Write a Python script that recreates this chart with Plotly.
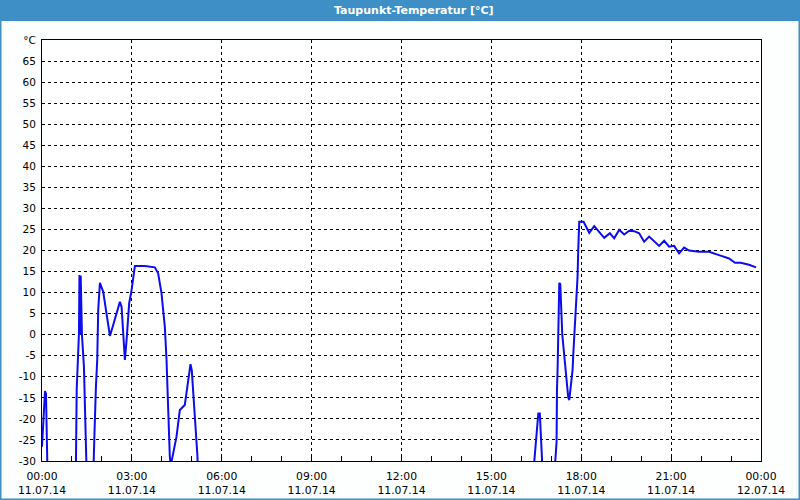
import pandas as pd
import plotly.graph_objects as go

# ---- data (minutes after 11.07.14 00:00, dew point in °C; values below -30 are off-scale) ----
minutes = [0, 2, 4, 6, 8, 11, 13,
           40,
           68, 69.5, 74, 75, 76.5, 77.5, 80, 84, 87.5, 90.5, 92,
           100,
           102.6, 104.6, 108, 110.6, 112.6, 116, 122.6, 129.4, 136, 142.6, 150.6, 156, 159.4,
           162.6, 166, 169.4, 174.6, 179.4, 182.6, 186, 206, 226, 232.6, 239.4, 242.6, 246,
           249.4, 252.6, 256, 258,
           262.6, 269.4, 276, 286, 289.4, 294.6, 297.4, 300, 302.6, 307.4, 311.4, 314,
           400, 980,
           986, 990.6, 994, 997, 999.4, 1001.4, 1004,
           1015,
           1028, 1030.6, 1031.4, 1032.6, 1036, 1038, 1042, 1046, 1050, 1054, 1056, 1059,
           1062.6, 1064, 1068, 1070.6, 1072.6, 1074, 1076, 1084.6, 1089.4, 1096, 1106, 1116,
           1126, 1137.4, 1146, 1156, 1166, 1176, 1186, 1196, 1206, 1216, 1226, 1236, 1246,
           1256, 1266, 1276, 1286, 1296, 1316, 1336, 1356, 1376, 1388, 1399.4, 1416, 1426, 1430]
dew_point = [-26.6, -22, -17, -13.4, -14, -28, -45,
             -45,
             -30, -13, 0.3, 14.2, 0, 14, 0, -7.6, -20.3, -29, -45,
             -45,
             -30, -25.4, -12.4, -6, 5.9, 12.3, 10.2, 5.1, -0.3, 2.3, 5.9, 7.8, 6.6,
             -0.9, -6, -1.3, 7.5, 10.6, 13.8, 16.3, 16.3, 16.0, 14.6, 9.8, 5.9, 1.9,
             -6, -17.9, -29, -31,
             -28, -24.2, -17.9, -16.7, -13.8, -8.4, -7.0, -8.5, -13.8, -21.9, -29, -45,
             -45, -45,
             -30, -23.8, -18.7, -18.7, -24.2, -29.5, -45,
             -45,
             -30, -25.4, -13.1, -8.4, 12.3, 12, 0, -5, -10, -15, -15.5, -12,
             -8.4, -4.8, 3.5, 7.5, 13.8, 20.1, 26.8, 26.8, 25.7, 24.2, 25.8, 24.5,
             23.0, 24.1, 22.9, 24.9, 23.8, 24.7, 24.6, 24.1, 22.1, 23.3, 22.1, 21.1, 22.3,
             20.9, 21.1, 19.3, 20.7, 20.0, 19.7, 19.7, 18.9, 18.1, 17.1, 17.1, 16.6, 16.1, 16.0]

x_tick_hours = [0, 3, 6, 9, 12, 15, 18, 21, 24]
x_tick_labels = ["00:00<br>11.07.14", "03:00<br>11.07.14", "06:00<br>11.07.14",
                 "09:00<br>11.07.14", "12:00<br>11.07.14", "15:00<br>11.07.14",
                 "18:00<br>11.07.14", "21:00<br>11.07.14", "00:00<br>12.07.14"]
y_tick_values = list(range(-30, 75, 5))
y_tick_labels = [str(v) for v in y_tick_values[:-1]] + ["°C"]

title_text = "Taupunkt-Temperatur [°C]"

# ---- figure ----
base = pd.Timestamp("2014-07-11 00:00")
x = base + pd.to_timedelta(minutes, unit="m")
tickvals = [base + pd.Timedelta(hours=h) for h in x_tick_hours]

W, H = 800, 500
L, R, T, B = 42, 761, 40, 461  # plot area in pixels


def px_x(p):
    return (p - L) / (R - L)


def px_y(p):
    return (B - p) / (B - T)


FONT = "DejaVu Sans"
BLUE_FRAME = "#3d8fc6"

fig = go.Figure()
fig.add_trace(go.Scatter(x=x, y=dew_point, mode="lines",
                         line=dict(color="#0c0cee", width=2),
                         hoverinfo="skip", showlegend=False))

fig.update_layout(
    width=W, height=H,
    margin=dict(l=L, r=W - R, t=T, b=H - B, pad=0),
    paper_bgcolor="#fcfffe",
    plot_bgcolor="#ffffff",
    font=dict(family=FONT, size=10.5, color="#000000"),
    xaxis=dict(
        type="date",
        range=[base, base + pd.Timedelta(days=1)],
        tickvals=tickvals, ticktext=x_tick_labels,
        tickfont=dict(size=10.8),
        ticks="inside", ticklen=5, tickcolor="#000000",
        ticklabelstandoff=5, automargin=False,
        minor=dict(dtick=3600000, tick0=base, ticks="inside", ticklen=5,
                   tickcolor="#000000", showgrid=False),
        showgrid=True, gridcolor="#000000", gridwidth=1, griddash="3px,3px",
        showline=True, linecolor="#000000", linewidth=1, mirror=True,
        zeroline=False, fixedrange=True,
    ),
    yaxis=dict(
        range=[-30, 70],
        tickvals=y_tick_values, ticktext=y_tick_labels,
        ticks="", ticklabelstandoff=3, automargin=False,
        showgrid=True, gridcolor="#000000", gridwidth=1, griddash="3px,3px",
        showline=True, linecolor="#000000", linewidth=1, mirror=True,
        zeroline=False, fixedrange=True,
    ),
    shapes=[
        # title bar
        dict(type="rect", xref="paper", yref="paper", layer="above",
             x0=px_x(0), x1=px_x(W), y0=px_y(21), y1=px_y(0),
             fillcolor=BLUE_FRAME, line=dict(width=0)),
        # window border left / right / bottom
        dict(type="rect", xref="paper", yref="paper", layer="above",
             x0=px_x(0), x1=px_x(1.5), y0=px_y(H), y1=px_y(0),
             fillcolor=BLUE_FRAME, line=dict(width=0)),
        dict(type="rect", xref="paper", yref="paper", layer="above",
             x0=px_x(W - 1.5), x1=px_x(W), y0=px_y(H), y1=px_y(0),
             fillcolor=BLUE_FRAME, line=dict(width=0)),
        dict(type="rect", xref="paper", yref="paper", layer="above",
             x0=px_x(0), x1=px_x(W), y0=px_y(H), y1=px_y(H - 1.5),
             fillcolor=BLUE_FRAME, line=dict(width=0)),
    ],
    annotations=[
        dict(text="<b>" + title_text + "</b>", xref="paper", yref="paper",
             x=px_x(414), y=px_y(10.5), xanchor="center", yanchor="middle",
             showarrow=False, font=dict(family=FONT, size=11, color="#ffffff")),
    ],
)

fig.write_html("out.html", config={"displayModeBar": False})
